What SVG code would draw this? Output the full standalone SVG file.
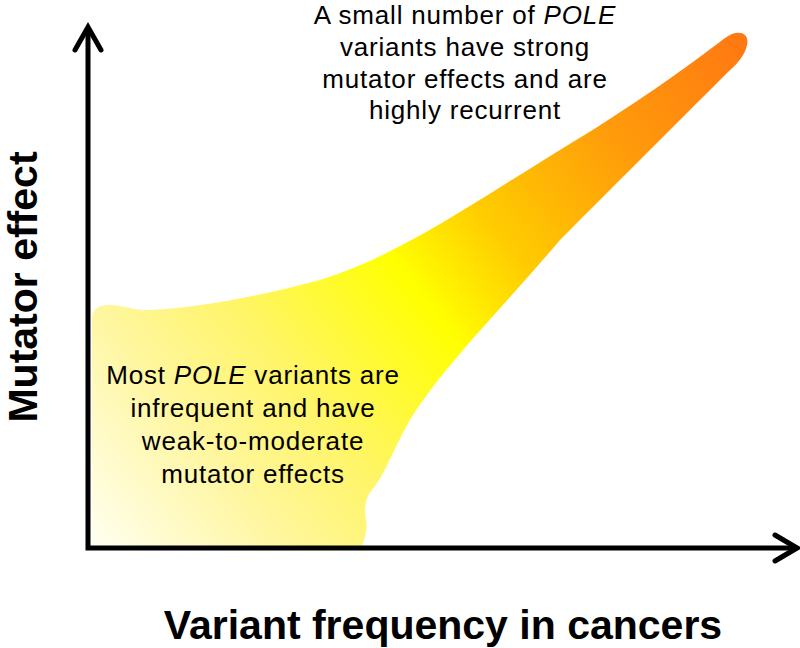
<svg xmlns="http://www.w3.org/2000/svg" width="800" height="648" viewBox="0 0 800 648">
  <defs>
    <linearGradient id="blobGrad" gradientUnits="userSpaceOnUse" x1="93" y1="545" x2="745" y2="40">
      <stop offset="0" stop-color="#fffff0"/>
      <stop offset="0.18" stop-color="#fff6a0"/>
      <stop offset="0.32" stop-color="#fff566"/>
      <stop offset="0.5" stop-color="#ffff00"/>
      <stop offset="0.62" stop-color="#ffcc00"/>
      <stop offset="0.8" stop-color="#ff9c0a"/>
      <stop offset="1" stop-color="#ff7812"/>
    </linearGradient>
    <style>
      .ann { font-family: "Liberation Sans", Arial, sans-serif; font-size: 26px; letter-spacing: 0.8px; fill: #000; text-anchor: middle; }
      .axlabel { font-family: "Liberation Sans", Arial, sans-serif; font-size: 41px; font-weight: bold; fill: #000; text-anchor: middle; }
      .axis { fill: none; stroke: #000; stroke-width: 5; }
      .head { fill: none; stroke: #000; stroke-width: 5; stroke-linecap: round; stroke-linejoin: miter; }
      .it { font-style: italic; }
    </style>
  </defs>
  <rect width="800" height="648" fill="#ffffff"/>

  <g id="distribution">
    <path fill="url(#blobGrad)" d="M 92,546 L 92,320 C 92,310 96,306 108,305 C 120,304 135,311 150,310 C 200,308 260,296 320,280 C 400,255 470,205 560,150 C 630,108 690,65 725,38 C 738,28 750,33 747,45 C 745,55 738,63 728,72 C 690,110 620,180 560,240 C 505,305 440,370 410,420 C 395,445 385,475 372,490 C 365,498 364,510 366,520 C 368,530 364,540 362,546 Z"/>
  </g>

  <g id="connectors">
    <path class="axis" d="M 88,28 V 548 H 795"/>
    <polyline class="head" points="75,50 88,27 101,50"/>
    <polyline class="head" points="775,535 797,548 775,561"/>
  </g>

  <g id="label-strong">
    <text class="ann" x="465" y="24">A small number of <tspan class="it">POLE</tspan></text>
    <text class="ann" x="465" y="56">variants have strong</text>
    <text class="ann" x="465" y="88">mutator effects and are</text>
    <text class="ann" x="465" y="119">highly recurrent</text>
  </g>

  <g id="label-weak">
    <text class="ann" x="253" y="384">Most <tspan class="it">POLE</tspan> variants are</text>
    <text class="ann" x="253" y="417">infrequent and have</text>
    <text class="ann" x="253" y="450">weak-to-moderate</text>
    <text class="ann" x="253" y="483">mutator effects</text>
  </g>

  <g id="y-axis-label">
    <text class="axlabel" transform="translate(37,287) rotate(-90)" x="0" y="0">Mutator effect</text>
  </g>

  <g id="x-axis-label">
    <text class="axlabel" x="443" y="639">Variant frequency in cancers</text>
  </g>
</svg>
